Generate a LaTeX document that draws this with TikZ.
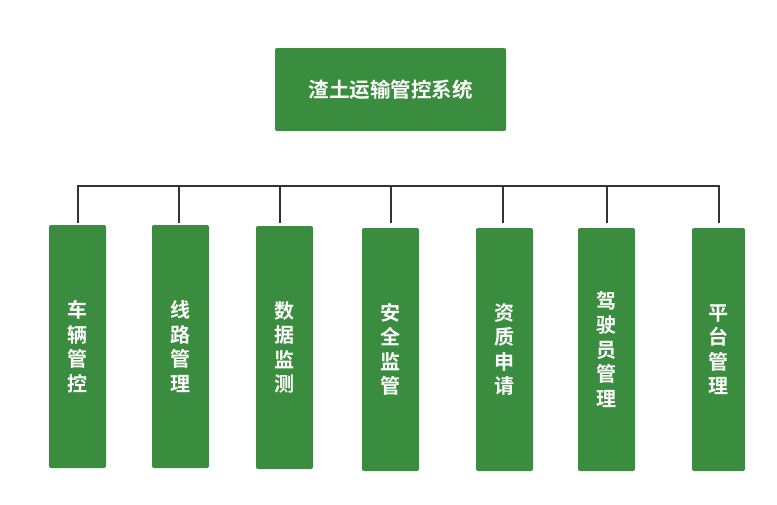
\documentclass[tikz,border=0pt]{standalone}
\usepackage{fontspec}
\newfontfamily\cjk{Noto Sans CJK SC Bold}
\definecolor{boxgreen}{HTML}{3A8D3E}
\definecolor{linegray}{HTML}{333333}
\begin{document}
\begin{tikzpicture}[x=1pt,y=-1pt,
  greenbox/.style={fill=boxgreen,rounded corners=2pt,inner sep=0pt,text=white,font=\cjk\fontsize{20}{24.5}\selectfont,align=center},
  conn/.style={draw=linegray,line width=2pt}]
\useasboundingbox (0,0) rectangle (777,504);
\node[greenbox,font=\cjk\fontsize{20.5}{22}\selectfont,minimum width=231pt,minimum height=83pt] (top) at (390.5,89.5) {渣土运输管控系统};
\node[greenbox,minimum width=57pt,minimum height=243pt] (b1) at (77.5,346.5) {车\\辆\\管\\控};
\node[greenbox,minimum width=57pt,minimum height=243pt] (b2) at (180.5,346.5) {线\\路\\管\\理};
\node[greenbox,minimum width=57pt,minimum height=243pt] (b3) at (284.5,347.5) {数\\据\\监\\测};
\node[greenbox,minimum width=57pt,minimum height=243pt] (b4) at (390.5,349.5) {安\\全\\监\\管};
\node[greenbox,minimum width=57pt,minimum height=243pt] (b5) at (504.5,349.5) {资\\质\\申\\请};
\node[greenbox,minimum width=57pt,minimum height=243pt] (b6) at (606.5,349.5) {驾\\驶\\员\\管\\理};
\node[greenbox,minimum width=53pt,minimum height=243pt] (b7) at (718.5,349.5) {平\\台\\管\\理};
\coordinate (busL) at (77,186);
\coordinate (busR) at (719,186);
\draw[conn] (busL) -- (busR);
\foreach \b/\x in {b1/78,b2/179,b3/280,b4/391,b5/503,b6/607,b7/719}{
  \draw[conn] (\x,185) -- (\x,223);
}
\end{tikzpicture}
\end{document}
